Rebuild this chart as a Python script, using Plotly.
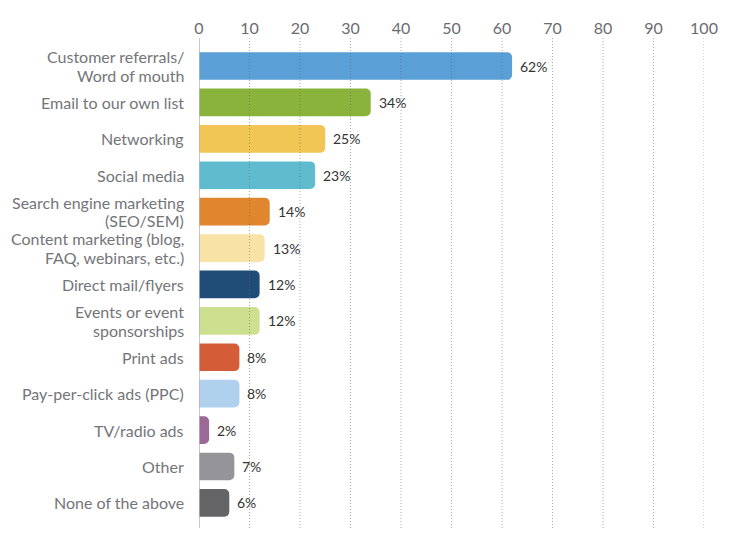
import plotly.graph_objects as go

categories = [
    "Customer referrals/<br>Word of mouth",
    "Email to our own list",
    "Networking",
    "Social media",
    "Search engine marketing<br>(SEO/SEM)",
    "Content marketing (blog,<br>FAQ, webinars, etc.)",
    "Direct mail/flyers",
    "Events or event<br>sponsorships",
    "Print ads",
    "Pay-per-click ads (PPC)",
    "TV/radio ads",
    "Other",
    "None of the above",
]
values = [62, 34, 25, 23, 14, 13, 12, 12, 8, 8, 2, 7, 6]
colors = ["#5b9fd7", "#89b33b", "#f2c655", "#5fbccf", "#e0862e", "#f9e2a6",
          "#1f4d78", "#cde08f", "#d45c37", "#afd1ed", "#9c6896", "#959599", "#646467"]
x_ticks = list(range(0, 101, 10))

FONT = "Lato"
idx = list(range(len(categories)))

fig = go.Figure()
fig.add_trace(go.Bar(
    x=values, y=idx, orientation="h",
    marker=dict(color=colors, line=dict(width=0), cornerradius=5),
    width=0.76, hoverinfo="skip",
))

# value labels
for i, v in enumerate(values):
    fig.add_annotation(x=v, y=i, text=f"{v}%", showarrow=False, xanchor="left",
                       xshift=6, font=dict(family=FONT, size=14, color="#333333"))

# category labels (tight line spacing)
LINE = 18.5
for i, c in enumerate(categories):
    lines = c.split("<br>")
    n = len(lines)
    for k, ln in enumerate(lines):
        off = ((n - 1) / 2 - k) * LINE
        fig.add_annotation(x=0, y=i, xref="x", yref="y", text=ln, showarrow=False,
                           xanchor="right", xshift=-13, yshift=off,
                           font=dict(family=FONT, size=16, color="#747579"))

# dotted gridlines above the bars
for t in x_ticks[1:]:
    fig.add_shape(type="line", xref="x", yref="paper", x0=t, x1=t, y0=0, y1=1,
                  line=dict(color="rgba(100,100,100,0.55)", width=1, dash="1px,2px"),
                  layer="above")

fig.update_layout(
    width=730, height=557,
    margin=dict(l=199, r=26, t=38, b=29),
    paper_bgcolor="white", plot_bgcolor="white",
    showlegend=False,
    xaxis=dict(side="top", range=[0, 100], tickvals=x_ticks, showgrid=False,
               zeroline=False, showline=False, ticks="",
               tickfont=dict(family=FONT, size=16, color="#6b6b6f"), fixedrange=True),
    yaxis=dict(range=[12.69, -0.77], showticklabels=False, showgrid=False,
               zeroline=False, showline=False, ticks="", fixedrange=True),
)
fig.add_shape(type="line", xref="x", yref="paper", x0=0, x1=0, y0=0, y1=1,
              line=dict(color="#b5b5b8", width=1.5), layer="above")

fig.write_html("out.html")
